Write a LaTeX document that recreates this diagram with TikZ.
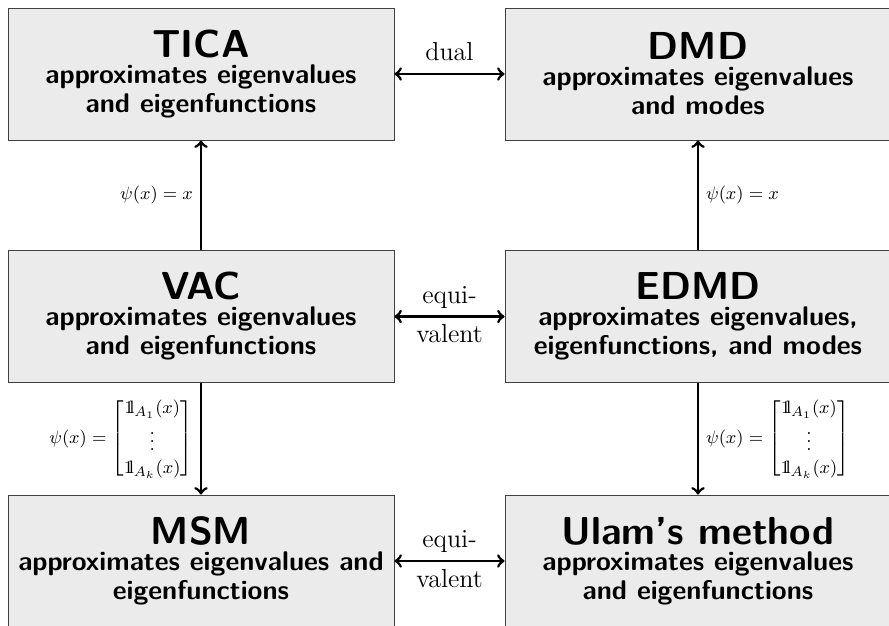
\documentclass[tikz,border=0pt]{standalone}
\usepackage{amsmath}
\usetikzlibrary{positioning}

\tikzset{
  method/.style={draw=black!75, fill=black!8, minimum width=193pt, minimum height=66pt,
    inner sep=0pt, align=center, font=\sffamily\bfseries\fontsize{13.5}{14.5}\selectfont},
  link/.style={line width=1.4pt},
  relname/.style={font=\fontsize{13}{15}\selectfont},
  basis/.style={font=\fontsize{9.5}{11.4}\selectfont}
}
\newcommand{\mtitle}[1]{{\fontsize{19.5}{20}\selectfont #1}\\[-1.5pt]}
\newcommand{\indone}{\mathrm{1\mkern-4.2mu l}}
\newcommand{\indmap}{$\psi(x) = \begin{bmatrix}\indone_{A_1}(x)\\ \vdots\\ \indone_{A_k}(x)\end{bmatrix}$}

\begin{document}
\begin{tikzpicture}[x=0.5pt,y=-0.5pt]
  \clip (0,0) rectangle (889,626);

  % methods
  \node[method] (tica) at (201,74)  {\mtitle{TICA}approximates eigenvalues\\and eigenfunctions};
  \node[method] (dmd)  at (698,74)  {\mtitle{DMD}approximates eigenvalues\\and modes};
  \node[method] (vac)  at (201,316.5) {\mtitle{VAC}approximates eigenvalues\\and eigenfunctions};
  \node[method] (edmd) at (698,316.5) {\mtitle{EDMD}approximates eigenvalues,\\eigenfunctions, and modes};
  \node[method] (msm)  at (201,561) {\mtitle{MSM}approximates eigenvalues and\\eigenfunctions};
  \node[method] (ulam) at (698,561) {\mtitle{Ulam’s method}approximates eigenvalues\\and eigenfunctions};

  % relations
  \draw[link,<->] (tica) -- node[above=2.5pt,relname] {dual} (dmd);
  \draw[link,<->] (vac) -- node[above,relname] {equi-} node[below,relname] {valent} (edmd);
  \draw[link,<->] (msm) -- node[above,relname] {equi-} node[below,relname] {valent} (ulam);

  % special cases
  \draw[link,->] (vac) -- node[left,basis] {$\psi(x) = x$} (tica);
  \draw[link,->] (edmd) -- node[right,basis] {$\psi(x) = x$} (dmd);
  \draw[link,->] (vac) -- node[left,basis] {\indmap} (msm);
  \draw[link,->] (edmd) -- node[right,basis] {\indmap} (ulam);
\end{tikzpicture}
\end{document}
